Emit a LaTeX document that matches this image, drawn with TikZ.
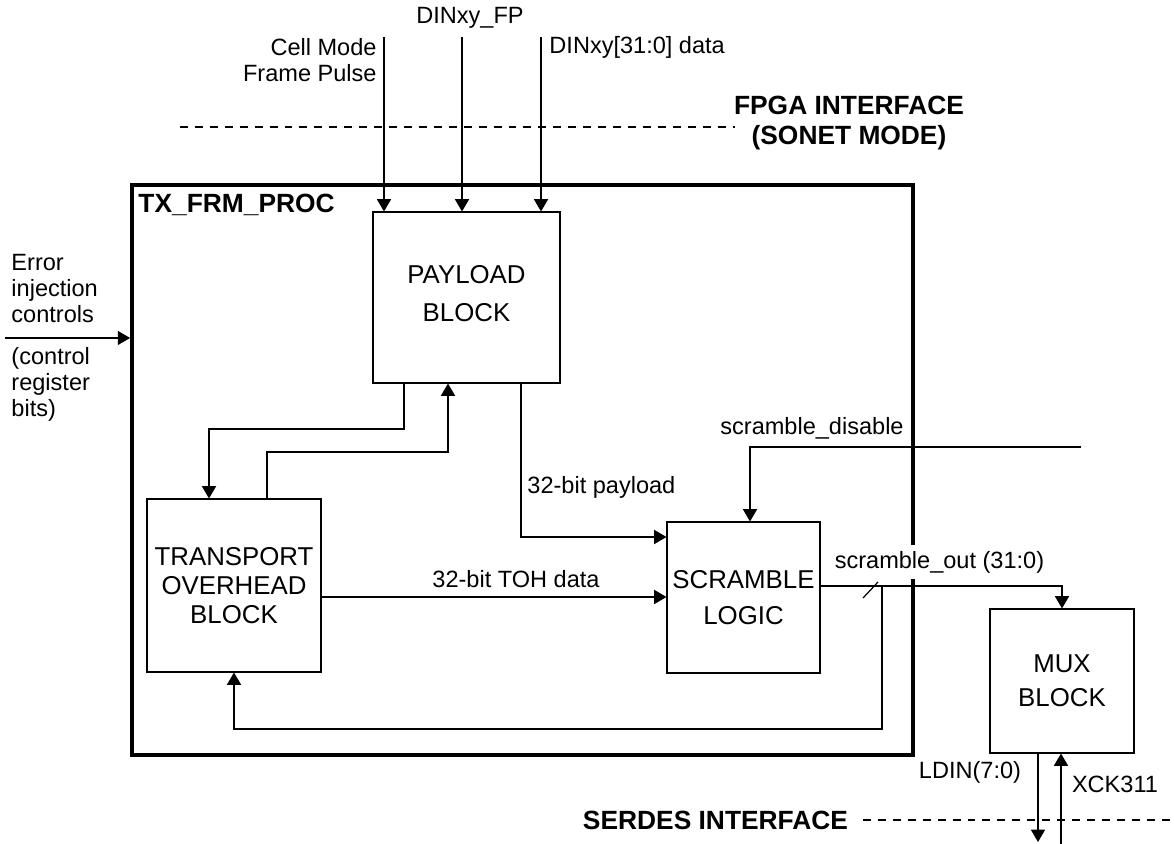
\documentclass[tikz,border=0pt]{standalone}
\usepackage{fontspec}
\setmainfont{Liberation Sans}
\usetikzlibrary{positioning, arrows.meta}

\begin{document}
\begin{tikzpicture}[x=0.02cm, y=-0.02cm, line width=0.7pt, >={Triangle[length=7pt, width=8pt]},
    blk/.style={draw, line width=0.6pt, align=center, inner sep=0pt, font=\fontsize{14.7}{18}\selectfont},
    lbl/.style={font=\fontsize{13.4}{14.8}\selectfont},
    hdr/.style={font=\fontsize{15}{17.5}\selectfont\bfseries, align=center},
    iface/.style={line width=0.6pt, dash pattern=on 4.5pt off 4pt}]
      \useasboundingbox (0,0) rectangle (1174,844);
      \node[draw, line width=2.3pt, minimum width=15.62cm, minimum height=11.4cm] (proc) at (522.5,470) {};
      \node[hdr, anchor=west] (proctitle) at (132,205) {TX\_FRM\_PROC};
      \node[blk, minimum width=3.74cm, minimum height=3.42cm, text depth=5pt] (payload) at (466.5,297.5) {PAYLOAD\\[3.5pt]BLOCK};
      \node[blk, minimum width=3.48cm, minimum height=3.46cm] (transport) at (234,585.5) {TRANSPORT\\[-1.3pt]OVERHEAD\\[-1.3pt]BLOCK};
      \node[blk, minimum width=3.06cm, minimum height=3.02cm] (scramble) at (743.5,597.5) {SCRAMBLE\\[2.4pt]LOGIC};
      \node[blk, minimum width=2.88cm, minimum height=2.88cm] (mux) at (1062,681) {MUX\\[1.6pt]BLOCK};
      \coordinate (cmfp) at (384,37);
      \coordinate (fp) at (462,37);
      \coordinate (din) at (541,37);
      \coordinate (err) at (5,338);
      \coordinate (sdis) at (1081,447);
      \coordinate (tap) at (882,586);
      \coordinate (ldin) at (1038,842);
      \coordinate (xck) at (1061,844);
      \node[lbl, align=right, anchor=east] (cmfplbl) at (383,60) {Cell Mode\\Frame Pulse};
      \node[lbl] (fplbl) at (470,18) {DINxy\_FP};
      \node[lbl, anchor=west] (dinlbl) at (543,47) {DINxy[31:0] data};
      \node[hdr] (fpga) at (849,123) {FPGA INTERFACE\\[0pt](SONET MODE)};
      \node[lbl, align=left, anchor=west] (errlbl) at (5,289) {Error\\injection\\controls};
      \node[lbl, align=left, anchor=west] (reglbl) at (5,384) {(control\\register\\bits)};
      \node[lbl, anchor=west] (paylbl) at (521,487) {32-bit payload};
      \node[lbl] (tohlbl) at (516,579) {32-bit TOH data};
      \node[lbl] (sdislbl) at (812,428) {scramble\_disable};
      \node[lbl, fill=white] (soutlbl) at (939.5,562) {scramble\_out (31:0)};
      \node[lbl] (ldinlbl) at (970,772) {LDIN(7:0)};
      \node[lbl] (xcklbl) at (1115,784) {XCK311};
      \node[hdr] (serdes) at (715.5,820) {SERDES INTERFACE};
      \draw[iface] (180,127) -- (735,127);
      \draw[iface] (863,820) -- (1174,820);
      \draw[->] (cmfp) -- (cmfp |- payload.north);
      \draw[->] (fp) -- (fp |- payload.north);
      \draw[->] (din) -- (din |- payload.north);
      \draw[->] (err) -- (err -| proc.west);
      \draw[->] (payload.south -| 404,0) |- (209,429) -- (transport.north -| 209,0);
      \draw[->] (transport.north -| 267,0) |- (448,452) -- (payload.south -| 448,0);
      \draw[->] (payload.south -| 521,0) |- (scramble.west |- 0,537);
      \draw[->] (transport.east |- 0,597) -- (scramble.west |- 0,597);
      \draw[->] (sdis) -| (scramble.north -| 750,0);
      \draw[->] (scramble.east |- tap) -| (mux.north);
      \draw[->] (tap) |- (234,729) -- (transport.south);
      \draw (863,598) -- (878,582);
      \draw[->] (mux.south -| ldin) -- (ldin);
      \draw[->] (xck) -- (mux.south -| xck);
    \end{tikzpicture}
\end{document}
